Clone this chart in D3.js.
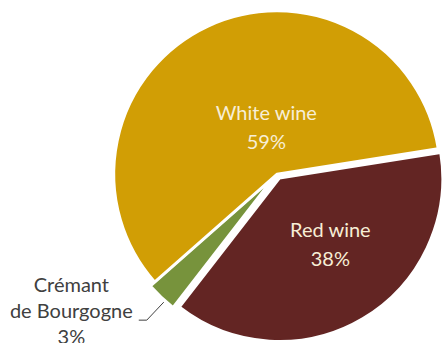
<!DOCTYPE html>
<html>
<head>
<meta charset="utf-8">
<script src="https://cdn.jsdelivr.net/npm/d3@7"></script>
<style>
  body { margin: 0; background: #fff; }
  svg { display: block; }
</style>
</head>
<body>
<div id="chart"></div>
<script>
// data, in drawing order (clockwise from the red slice)
const categories = ["Red wine", "Crémant de Bourgogne", "White wine"];
const shares = [38, 3, 59];
const nameLines = [["Red wine"], ["Crémant", "de Bourgogne"], ["White wine"]];
const colors = ["#632523", "#77933C", "#D19E05"];

const width = 444;
const height = 343;
const cx = 277, cy = 174, r = 163;
const toRad = d => d * Math.PI / 180;

// how far each slice is pulled out, and where its label sits
const explode = [5, 6, 0];
const labelPos = [
  {inside: true, dist: 0.50, nudge: -8},
  {inside: false},
  {inside: true, dist: 0.31, nudge: 13}
];

const svg = d3.select("#chart").append("svg")
  .attr("width", width)
  .attr("height", height)
  .style("font-family", "Lato, 'Open Sans', sans-serif");

const pie = d3.pie()
  .sort(null)
  .value(d => d)
  .startAngle(toRad(81))
  .endAngle(toRad(81 + 360));

const arcs = pie(shares);
const arc = d3.arc().innerRadius(0).outerRadius(r);

const polar = (a, d) => [Math.sin(a) * d, -Math.cos(a) * d];

const g = svg.append("g").attr("transform", `translate(${cx},${cy})`);

arcs.forEach((d, i) => {
  const mid = (d.startAngle + d.endAngle) / 2;
  const [ox, oy] = polar(mid, explode[i]);
  const slice = g.append("g").attr("transform", `translate(${ox},${oy})`);

  slice.append("path")
    .attr("d", arc(d))
    .attr("fill", colors[i])
    .attr("stroke", "#fff")
    .attr("stroke-width", 2.5)
    .attr("stroke-linejoin", "round");

  const pct = shares[i] + "%";
  const lp = labelPos[i];

  if (lp.inside) {
    const [lx, ly] = polar(mid + toRad(lp.nudge), r * lp.dist);
    const t = slice.append("text")
      .attr("text-anchor", "middle")
      .attr("fill", "#F7EED6")
      .style("font-size", "20px");
    t.append("tspan").attr("x", lx).attr("y", ly - 5).text(nameLines[i][0]);
    t.append("tspan").attr("x", lx).attr("y", ly + 24).text(pct);
  } else {
    // leader line from the slice edge, then label to the left
    const [sx, sy] = polar(mid - toRad(1.8), r + 2);
    const ex = sx - 17, ey = sy + 18;
    slice.append("polyline")
      .attr("points", [[sx, sy], [ex, ey], [ex - 8, ey]].map(p => p.join(",")).join(" "))
      .attr("fill", "none")
      .attr("stroke", "#404040")
      .attr("stroke-width", 1);

    const lines = nameLines[i].concat([pct]);
    const t = slice.append("text")
      .attr("text-anchor", "middle")
      .attr("fill", "#404040")
      .style("font-size", "20px");
    const spans = t.selectAll("tspan").data(lines).join("tspan").text(s => s);
    const maxW = d3.max(spans.nodes(), n => n.getComputedTextLength());
    const tx = ex - 8 - 6 - maxW / 2;
    spans.attr("x", tx).attr("y", (s, k) => ey - 2 + (k - 1) * 26);
  }
});
</script>
</body>
</html>
